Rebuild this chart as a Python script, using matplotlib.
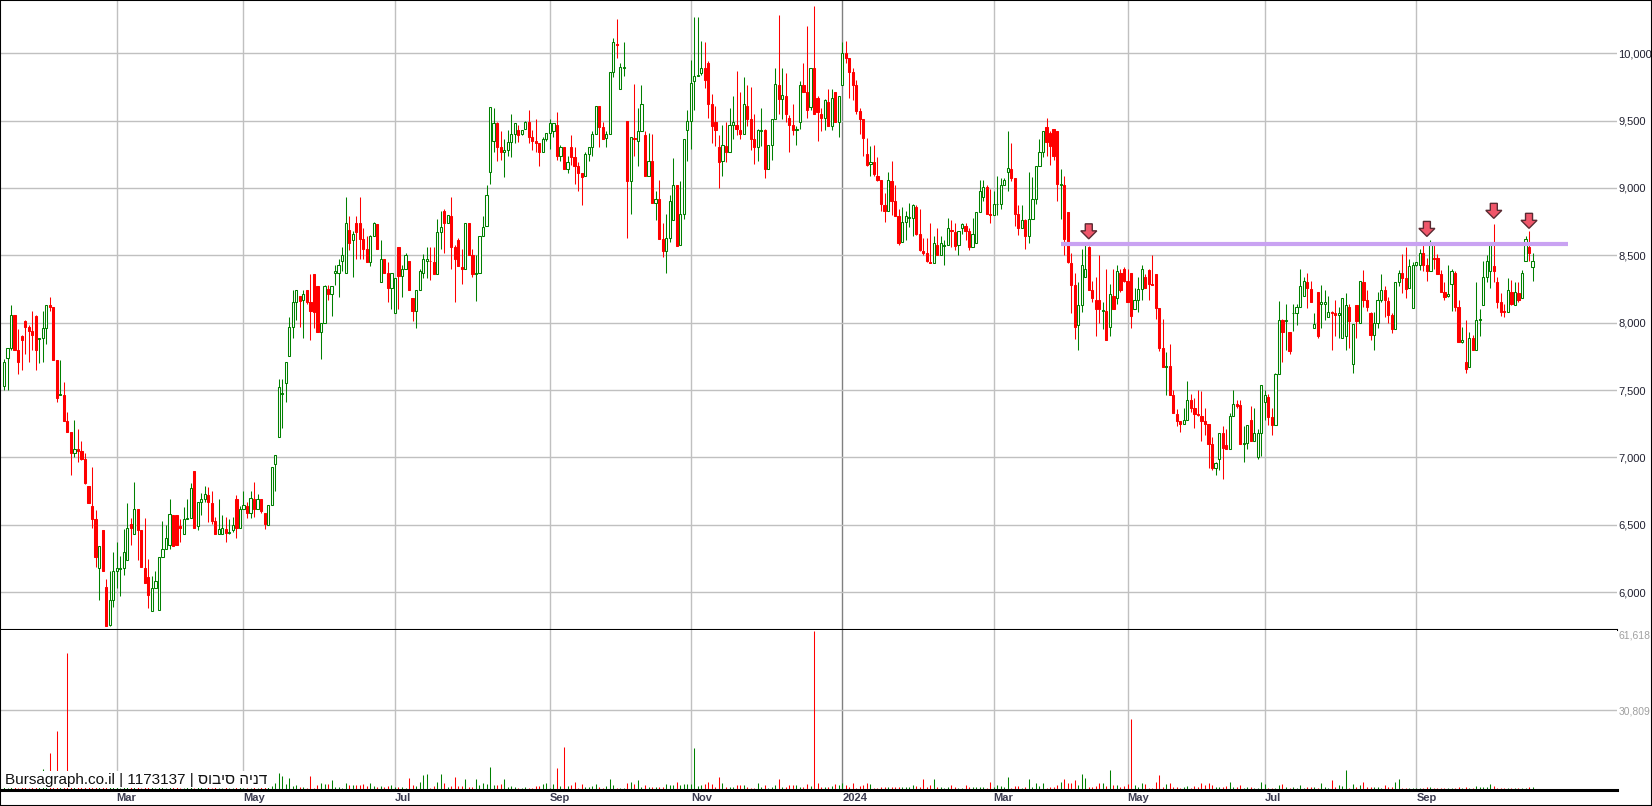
import matplotlib
matplotlib.use('Agg')
import matplotlib.pyplot as plt
from matplotlib.patches import Rectangle, Polygon
from matplotlib.transforms import IdentityTransform, blended_transform_factory

# daily candles (agorot)
opens = [7530, 7740, 7810, 8060, 7800, 7900, 8010, 7970, 7940, 8050,
         7880, 7890, 7960, 8130, 8120, 7720, 7460, 7460, 7270, 7190,
         7030, 7060, 7050, 6990, 6790, 6640, 6540, 6180, 6460, 6040,
         5760, 5940, 6160, 6170, 6180, 6240, 6510, 6430, 6620, 6460,
         6180, 6110, 5860, 6030, 5870, 6260, 6320, 6350, 6570, 6570,
         6490, 6430, 6540, 6550, 6900, 6490, 6670, 6690, 6720, 6660,
         6530, 6430, 6430, 6470, 6440, 6460, 6690, 6480, 6620, 6640,
         6590, 6690, 6620, 6690, 6590, 6500, 6650, 6950, 7150, 7470,
         7550, 7750, 7970, 8150, 8200, 8170, 8240, 8150, 8360, 8270,
         7930, 8000, 8250, 8210, 8370, 8370, 8460, 8370, 8690, 8610,
         8740, 8740, 8620, 8550, 8450, 8640, 8730, 8300, 8470, 8370,
         8260, 8070, 8560, 8350, 8400, 8460, 8180, 8090, 8240, 8370,
         8460, 8460, 8450, 8360, 8670, 8830, 8740, 8790, 8560, 8610,
         8410, 8400, 8740, 8500, 8360, 8370, 8640, 8720, 9120, 9350,
         9480, 9300, 9270, 9280, 9340, 9400, 9430, 9400, 9440, 9490,
         9380, 9350, 9330, 9270, 9360, 9410, 9420, 9470, 9240, 9300,
         9140, 9300, 9230, 9160, 9110, 9090, 9250, 9300, 9400, 9610,
         9450, 9370, 9400, 9860, 10070, 9730, 9890, 9500, 9050, 9370,
         9350, 9420, 9390, 9090, 9200, 8890, 8920, 8620, 8530, 8630,
         8760, 9020, 8580, 8810, 9430, 9500, 9790, 9830, 9850, 9890,
         9930, 9620, 9490, 9300, 9200, 9310, 9270, 9470, 9470, 9430,
         9400, 9610, 9510, 9360, 9300, 9420, 9430, 9140, 9320, 9510,
         9760, 9660, 9680, 9520, 9470, 9430, 9490, 9760, 9710, 9600,
         9890, 9670, 9550, 9520, 9640, 9460, 9710, 9490, 9760, 10000,
         9960, 9860, 9760, 9570, 9510, 9250, 9180, 9190, 9090, 9060,
         8870, 8830, 9050, 8900, 8790, 8600, 8750, 8780, 8780, 8860,
         8660, 8530, 8520, 8450, 8440, 8580, 8500, 8570, 8580, 8690,
         8670, 8580, 8700, 8720, 8680, 8560, 8590, 8820, 8930, 9010,
         8810, 8800, 8880, 8880, 9020, 9120, 9140, 9070, 8810, 8700,
         8760, 8640, 8770, 8920, 9160, 9270, 9450, 9410, 9440, 9420,
         9020, 9020, 8820, 8440, 8280, 7980, 8130, 8340, 8560, 8240,
         8170, 8170, 8090, 8090, 7970, 8200, 8180, 8370, 8400, 8310,
         8370, 8100, 8170, 8250, 8340, 8390, 8290, 8360, 8110, 7810,
         7670, 7680, 7460, 7320, 7270, 7250, 7280, 7430, 7370, 7320,
         7310, 7270, 7250, 7100, 6920, 6990, 7180, 7090, 7060, 7310,
         7400, 7390, 7100, 7110, 7280, 7120, 7000, 7180, 7410, 7450,
         7300, 7240, 7620, 8020, 8010, 7930, 8070, 8070, 8120, 8200,
         8300, 8250, 7960, 8230, 8140, 8140, 8040, 8080, 8070, 8060,
         7890, 7900, 8120, 7690, 8130, 8000, 8300, 8170, 8070, 7910,
         8000, 8170, 8240, 8160, 8060, 7950, 8300, 8370, 8330, 8260,
         8110, 8430, 8430, 8520, 8430, 8380, 8480, 8480, 8360, 8230,
         8200, 8290, 8370, 8120, 7860, 7710, 7670, 7890, 7800, 8020,
         8130, 8340, 8380, 8420, 8300, 8150, 8090, 8080, 8230, 8130,
         8220, 8180, 8460, 8560, 8410]

highs = [7730, 7810, 8130, 8060, 7950, 7910, 8020, 7980, 8090, 8060,
         7890, 8090, 8130, 8190, 8120, 7720, 7720, 7560, 7340, 7190,
         7280, 7210, 7120, 7030, 6790, 6930, 6610, 6340, 6460, 6100,
         6160, 6300, 6370, 6270, 6470, 6660, 6550, 6820, 6620, 6460,
         6550, 6250, 6120, 6160, 6260, 6530, 6500, 6690, 6570, 6570,
         6540, 6630, 6690, 6810, 6900, 6670, 6740, 6790, 6780, 6750,
         6560, 6690, 6570, 6560, 6540, 6560, 6720, 6640, 6750, 6670,
         6750, 6820, 6730, 6690, 6590, 6650, 6930, 7020, 7580, 7580,
         7710, 8040, 8240, 8240, 8200, 8240, 8240, 8360, 8360, 8270,
         8000, 8280, 8280, 8270, 8430, 8470, 8560, 8930, 8790, 8680,
         8790, 8930, 8700, 8640, 8650, 8750, 8730, 8610, 8470, 8450,
         8370, 8330, 8560, 8430, 8520, 8460, 8180, 8240, 8400, 8510,
         8560, 8560, 8560, 8770, 8830, 8840, 8800, 8930, 8580, 8630,
         8550, 8740, 8740, 8550, 8500, 8640, 8790, 9020, 9600, 9590,
         9490, 9420, 9360, 9430, 9550, 9480, 9470, 9430, 9500, 9580,
         9430, 9510, 9330, 9380, 9410, 9510, 9480, 9560, 9320, 9300,
         9240, 9390, 9300, 9190, 9110, 9270, 9300, 9420, 9610, 9610,
         9490, 9420, 9860, 10110, 10250, 9930, 10080, 9500, 9380, 9770,
         9590, 9760, 9420, 9410, 9400, 8980, 9060, 8740, 8810, 8950,
         9220, 9020, 9050, 9360, 9580, 9950, 10270, 10270, 10090, 10080,
         9940, 9700, 9610, 9390, 9470, 9490, 9590, 9680, 9870, 9710,
         9820, 9760, 9750, 9550, 9440, 9590, 9440, 9320, 9510, 9890,
         10280, 9890, 9850, 9540, 9620, 9460, 9790, 9930, 10200, 9890,
         10350, 9680, 9590, 9660, 9730, 9730, 9710, 9680, 10080, 10090,
         9960, 9890, 9800, 9590, 9510, 9370, 9310, 9320, 9230, 9060,
         8960, 9120, 9200, 9020, 8840, 8860, 8830, 8890, 8880, 8870,
         8840, 8630, 8630, 8740, 8640, 8700, 8640, 8610, 8780, 8760,
         8740, 8680, 8740, 8740, 8700, 8780, 8820, 9060, 9060, 9020,
         8990, 8980, 9090, 9070, 9070, 9420, 9330, 9070, 8870, 8870,
         8770, 9120, 9080, 9160, 9360, 9420, 9520, 9420, 9440, 9420,
         9140, 9090, 8820, 8520, 8370, 8300, 8550, 8580, 8570, 8310,
         8340, 8500, 8150, 8400, 8290, 8400, 8430, 8400, 8410, 8400,
         8370, 8260, 8340, 8430, 8360, 8400, 8500, 8360, 8110, 8030,
         7780, 7840, 7500, 7360, 7270, 7370, 7570, 7470, 7440, 7500,
         7490, 7370, 7250, 7150, 6970, 7180, 7230, 7210, 7330, 7500,
         7430, 7430, 7230, 7240, 7380, 7370, 7210, 7540, 7500, 7470,
         7370, 7630, 8160, 8030, 8140, 7930, 8140, 8140, 8400, 8340,
         8370, 8310, 8070, 8230, 8280, 8240, 8200, 8090, 8170, 8120,
         8180, 8220, 8140, 7990, 8130, 8310, 8390, 8240, 8080, 8080,
         8230, 8360, 8270, 8190, 8070, 8300, 8390, 8510, 8560, 8470,
         8450, 8450, 8550, 8580, 8480, 8610, 8580, 8510, 8390, 8300,
         8430, 8400, 8380, 8170, 7970, 8020, 7930, 7910, 8300, 8100,
         8460, 8500, 8590, 8730, 8340, 8220, 8140, 8330, 8320, 8300,
         8300, 8390, 8640, 8680, 8520]

lows = [7500, 7500, 7800, 7800, 7620, 7650, 7770, 7710, 7800, 7650,
        7700, 7710, 7840, 8090, 7720, 7410, 7460, 7270, 7190, 6870,
        7000, 6970, 6980, 6800, 6660, 6480, 6190, 5940, 6160, 5750,
        5750, 5890, 6030, 5970, 6130, 6240, 6350, 6430, 6240, 6190,
        6070, 5880, 5860, 6030, 5870, 6260, 6320, 6320, 6340, 6350,
        6370, 6430, 6540, 6550, 6480, 6460, 6570, 6670, 6520, 6510,
        6430, 6430, 6430, 6370, 6430, 6450, 6400, 6480, 6620, 6550,
        6550, 6560, 6620, 6590, 6470, 6500, 6650, 6750, 7150, 7220,
        7410, 7750, 7890, 8020, 7970, 7890, 8140, 7870, 7960, 7930,
        7730, 8000, 8170, 8050, 8280, 8190, 8380, 8370, 8540, 8340,
        8470, 8470, 8470, 8450, 8420, 8640, 8550, 8300, 8370, 8150,
        8100, 8070, 8100, 8190, 8400, 8240, 8010, 7960, 8240, 8330,
        8330, 8320, 8360, 8360, 8550, 8520, 8740, 8400, 8150, 8420,
        8290, 8400, 8500, 8340, 8160, 8370, 8640, 8720, 9030, 9270,
        9200, 9210, 9080, 9240, 9230, 9330, 9340, 9390, 9440, 9330,
        9280, 9270, 9160, 9270, 9350, 9290, 9380, 9210, 9200, 9140,
        9110, 9170, 9030, 8980, 8870, 9090, 9200, 9240, 9400, 9300,
        9360, 9300, 9400, 9820, 9960, 9730, 9830, 8630, 8810, 9240,
        9160, 9420, 9090, 9090, 8890, 8760, 8620, 8490, 8370, 8600,
        8760, 8570, 8580, 8770, 9200, 9290, 9580, 9830, 9840, 9740,
        9520, 9330, 9310, 9000, 9090, 9190, 9270, 9360, 9390, 9360,
        9400, 9460, 9280, 9180, 9200, 9310, 9070, 9140, 9210, 9510,
        9550, 9510, 9490, 9270, 9390, 9320, 9440, 9710, 9520, 9580,
        9550, 9350, 9420, 9430, 9460, 9430, 9490, 9380, 9760, 9930,
        9670, 9650, 9550, 9400, 9240, 9160, 9090, 9090, 9050, 8830,
        8750, 8830, 8800, 8790, 8580, 8600, 8610, 8710, 8640, 8650,
        8530, 8500, 8450, 8440, 8440, 8500, 8500, 8430, 8580, 8560,
        8540, 8500, 8660, 8610, 8540, 8560, 8590, 8820, 8900, 8810,
        8740, 8800, 8800, 8840, 9020, 8980, 9050, 8720, 8650, 8700,
        8550, 8590, 8770, 8880, 9160, 9230, 9240, 9170, 9210, 8900,
        8770, 8500, 8440, 8070, 7880, 7800, 8080, 8340, 8240, 8150,
        7900, 8000, 7950, 7870, 7900, 8100, 8140, 8230, 8300, 8150,
        7960, 8100, 8080, 8170, 8260, 8170, 8280, 8030, 7790, 7670,
        7460, 7460, 7330, 7230, 7190, 7250, 7280, 7340, 7220, 7310,
        7120, 7170, 6920, 6910, 6870, 6910, 6840, 7060, 7060, 7310,
        7370, 7100, 6970, 7060, 7120, 7120, 6990, 7010, 7280, 7240,
        7170, 7240, 7620, 7710, 7800, 7770, 7940, 7980, 8120, 8200,
        8110, 8150, 7960, 7890, 7960, 8020, 8040, 7800, 7900, 7890,
        7890, 7800, 7810, 7630, 7890, 8000, 8120, 8090, 7870, 7800,
        7960, 8150, 8040, 8000, 7920, 7950, 8270, 8220, 8180, 8260,
        8110, 8420, 8390, 8380, 8310, 8380, 8400, 8360, 8230, 8170,
        8190, 8090, 8090, 7860, 7850, 7630, 7670, 7800, 7800, 7900,
        8130, 8300, 8260, 8300, 8110, 8050, 8040, 8080, 8130, 8130,
        8150, 8180, 8460, 8460, 8310]

closes = [7710, 7810, 8060, 7800, 7710, 7870, 7970, 7940, 7910, 7800,
          7890, 7960, 8130, 8120, 7720, 7440, 7470, 7270, 7190, 7030,
          7060, 7050, 6990, 6810, 6660, 6540, 6260, 6340, 6160, 5750,
          5940, 6160, 6180, 6180, 6300, 6480, 6480, 6620, 6460, 6190,
          6070, 5980, 6030, 6080, 6260, 6320, 6400, 6580, 6340, 6350,
          6480, 6540, 6550, 6770, 6480, 6670, 6690, 6730, 6670, 6530,
          6430, 6470, 6480, 6440, 6450, 6500, 6480, 6620, 6650, 6590,
          6700, 6620, 6690, 6600, 6510, 6650, 6930, 7020, 7520, 7480,
          7710, 7970, 8150, 8240, 8160, 8210, 8150, 8090, 8080, 7930,
          8000, 8270, 8210, 8270, 8380, 8430, 8500, 8740, 8590, 8660,
          8670, 8620, 8550, 8450, 8640, 8740, 8550, 8470, 8370, 8260,
          8370, 8330, 8350, 8400, 8500, 8240, 8090, 8240, 8380, 8470,
          8470, 8455, 8360, 8670, 8710, 8740, 8800, 8560, 8470, 8420,
          8400, 8740, 8500, 8360, 8370, 8640, 8710, 8950, 9600, 9480,
          9300, 9270, 9280, 9340, 9400, 9480, 9390, 9430, 9490, 9380,
          9350, 9330, 9270, 9360, 9410, 9480, 9480, 9240, 9300, 9140,
          9190, 9230, 9160, 9110, 9080, 9250, 9300, 9400, 9610, 9450,
          9360, 9400, 9860, 10080, 10060, 9900, 9900, 9050, 9380, 9360,
          9420, 9620, 9090, 9200, 8890, 8920, 8620, 8530, 8630, 8900,
          9020, 8570, 8810, 9360, 9500, 9780, 9830, 9840, 9890, 9800,
          9620, 9460, 9430, 9190, 9320, 9270, 9470, 9490, 9440, 9400,
          9620, 9510, 9360, 9300, 9430, 9430, 9140, 9320, 9510, 9770,
          9660, 9690, 9550, 9470, 9430, 9440, 9760, 9710, 9580, 9890,
          9550, 9560, 9520, 9650, 9460, 9670, 9490, 9680, 10000, 9960,
          9860, 9760, 9570, 9510, 9370, 9170, 9190, 9100, 9060, 8880,
          8830, 9060, 8900, 8790, 8590, 8750, 8790, 8780, 8870, 8660,
          8540, 8520, 8460, 8440, 8590, 8500, 8590, 8580, 8700, 8680,
          8570, 8680, 8730, 8680, 8560, 8660, 8820, 8980, 9010, 8810,
          8800, 8880, 8880, 9020, 9060, 9150, 9070, 8810, 8700, 8760,
          8640, 8770, 8920, 9160, 9270, 9420, 9340, 9310, 9240, 9030,
          9030, 8620, 8450, 8280, 7970, 8130, 8430, 8400, 8240, 8180,
          8100, 8100, 8090, 7870, 8210, 8100, 8380, 8240, 8310, 8150,
          8050, 8170, 8250, 8400, 8260, 8290, 8280, 8110, 7810, 7670,
          7680, 7460, 7330, 7270, 7250, 7280, 7430, 7370, 7320, 7315,
          7270, 7250, 7100, 6920, 6960, 7180, 7070, 7060, 7310, 7400,
          7380, 7100, 7110, 7240, 7120, 7180, 7180, 7540, 7460, 7300,
          7240, 7620, 8020, 7930, 8020, 7790, 8070, 8120, 8270, 8310,
          8260, 8150, 7990, 7900, 8150, 8150, 8080, 8070, 8060, 8070,
          8180, 8130, 8010, 7990, 8010, 8310, 8170, 8120, 7910, 8000,
          8170, 8240, 8170, 8060, 7950, 8300, 8370, 8330, 8250, 8420,
          8430, 8450, 8520, 8430, 8380, 8590, 8470, 8360, 8230, 8190,
          8210, 8380, 8120, 7860, 7870, 7660, 7890, 7800, 8020, 8030,
          8340, 8460, 8590, 8380, 8150, 8080, 8080, 8240, 8140, 8230,
          8170, 8370, 8620, 8520, 8460]

volumes = [1400, 900, 2100, 1600, 800, 1100, 1300, 700, 1000, 1500,
           1200, 8000, 2400, 14200, 3100, 22800, 2600, 1900, 53100, 4200,
           2800, 1500, 1100, 1700, 2300, 1900, 2600, 3000, 2200, 1800,
           2500, 1600, 1200, 900, 1400, 1100, 1700, 1000, 1300, 900,
           1200, 1600, 1100, 800, 1000, 1400, 900, 1200, 1500, 1000,
           700, 800, 1100, 1300, 900, 1600, 1000, 800, 1200, 900,
           1000, 700, 800, 1100, 600, 900, 1200, 1000, 800, 700,
           900, 1100, 800, 1000, 1300, 1800, 1550, 2600, 6450, 5400,
           2200, 4800, 1550, 1800, 1150, 1300, 900, 5400, 900, 1800,
           2600, 2200, 2200, 3900, 1300, 1300, 900, 2600, 1950, 1950,
           1800, 1950, 2200, 1550, 2600, 1550, 1150, 1550, 1300, 1550,
           1800, 1150, 1300, 1300, 900, 4500, 1800, 1550, 3200, 5700,
           6050, 900, 1550, 3200, 6050, 2850, 1150, 1550, 4900, 1550,
           1550, 4150, 1300, 1300, 4150, 1950, 2600, 2200, 8800, 1800,
           1800, 2200, 4150, 1150, 1550, 1150, 900, 900, 1300, 900,
           900, 1550, 1550, 2200, 2850, 900, 2200, 8400, 1550, 16600,
           1550, 1800, 3200, 900, 2200, 1030, 1030, 1550, 2200, 1030,
           650, 1550, 4130, 1800, 900, 650, 650, 2580, 3230, 2450,
           3740, 1030, 1940, 1030, 1290, 1030, 1030, 1290, 2190, 1810,
           1810, 3230, 1810, 2190, 2190, 2190, 16100, 1550, 1940, 2190,
           3230, 2190, 1030, 4900, 2840, 1030, 1030, 1030, 1810, 1810,
           1810, 1290, 650, 900, 2840, 1030, 1810, 650, 1290, 1810,
           4130, 1290, 1030, 1810, 1810, 1810, 1030, 1030, 2190, 1550,
           61618, 2580, 1030, 1030, 1030, 1550, 2190, 1810, 2840, 1810,
           1290, 2580, 650, 1550, 1940, 2580, 2190, 900, 900, 1160,
           1290, 1290, 1030, 1030, 1030, 1290, 1290, 1030, 1810, 1550,
           1290, 4130, 1030, 1810, 4130, 1290, 1290, 900, 1030, 1810,
           1290, 900, 900, 1810, 1290, 1030, 1030, 1030, 1290, 650,
           3230, 1030, 1810, 1550, 1030, 4900, 900, 1550, 1550, 900,
           1030, 4130, 1290, 2840, 1550, 2580, 900, 1030, 1030, 1810,
           3230, 4130, 2580, 2840, 3740, 1810, 6060, 4520, 1290, 1290,
           1550, 2580, 2580, 1550, 7610, 1940, 1940, 1160, 1550, 2190,
           27350, 1940, 1030, 2580, 2190, 650, 650, 3230, 5680, 1030,
           2190, 2580, 1030, 1030, 650, 1030, 1550, 650, 1550, 1030,
           2580, 1940, 2580, 1810, 1030, 1030, 1160, 1550, 2970, 1290,
           1030, 1940, 900, 1030, 1030, 900, 900, 2970, 2190, 650,
           650, 900, 1810, 2190, 1030, 650, 1030, 650, 1810, 650,
           1030, 1030, 1030, 900, 2580, 1290, 900, 3740, 1290, 1940,
           1550, 7610, 650, 2190, 1030, 1940, 3230, 1030, 1030, 1030,
           1030, 650, 1810, 1030, 1030, 3230, 4130, 900, 650, 650,
           650, 650, 650, 650, 1030, 1030, 650, 650, 650, 650,
           650, 650, 900, 1290, 900, 1030, 650, 650, 1550, 1030,
           1030, 1030, 2190, 1550, 900, 650, 650, 650, 650, 650,
           650, 900, 900, 1030, 1030]

# month gridlines (candle index of first trading day)
month_pos = [32, 68, 111, 155, 195, 238, 281, 319, 358, 401]
month_lbl = ['Mar', 'May', 'Jul', 'Sep', 'Nov', '2024', 'Mar', 'May', 'Jul', 'Sep']
price_ticks = [6000, 6500, 7000, 7500, 8000, 8500, 9000, 9500, 10000]
vol_max = 61618

resist_level = 8585
resist_from, resist_to = 300, 444
arrow_idx = [308, 404, 423, 433]
arrow_tip = [8622, 8640, 8774, 8700]

stock = 'דניה סיבוס'

W, H = 1652, 806
GREEN = '#008000'
RED = '#ff0000'
GRID = '#c0c0c0'

fig = plt.figure(figsize=(W / 100, H / 100), dpi=100)
fig.patch.set_facecolor('white')
ax = fig.add_axes([0, (H - 630) / H, 1617 / W, 630 / H])
axv = fig.add_axes([0, (H - 790) / H, 1617 / W, 160 / H], sharex=ax)

n = len(closes)
step = 3.522
ax.set_xlim(-4 / step, (1617 - 4) / step)
ax.set_ylim(5720, 10394)
axv.set_ylim(0, 62000)

# grid
for a in (ax, axv):
    for p in month_pos:
        col = '#808080' if p == 238 else GRID
        a.axvline(p, color=col, lw=1, zorder=0)
for v in price_ticks:
    ax.axhline(v, color=GRID, lw=1, zorder=0)
axv.axhline(vol_max / 2, color=GRID, lw=1, zorder=0)

# candles
bw = 0.62
for i in range(n):
    o, h, l, c = opens[i], highs[i], lows[i], closes[i]
    up = c >= o
    col = GREEN if up else RED
    ax.vlines(i, l, h, colors=col, lw=0.75, zorder=2)
    lo, hi = min(o, c), max(o, c)
    ax.add_patch(Rectangle((i - bw / 2, lo), bw, max(hi - lo, 4),
                           facecolor='white' if up else RED, edgecolor=col,
                           lw=0.75, zorder=3))
    axv.vlines(i, 0, volumes[i], colors=col, lw=0.75, zorder=2)

# resistance line
ax.hlines(resist_level, resist_from, resist_to, colors='#c9a2f2', lw=3.0, zorder=4)

# axes look
for a in (ax, axv):
    for s in ('top', 'left', 'right'):
        a.spines[s].set_visible(False)
ax.spines['bottom'].set_color('black')
ax.spines['bottom'].set_linewidth(1.5)
ax.spines['bottom'].set_zorder(6)
axv.spines['bottom'].set_color('black')
axv.spines['bottom'].set_linewidth(2.2)
axv.spines['bottom'].set_zorder(10)

ax.yaxis.tick_right()
ax.set_yticks(price_ticks)
ax.set_yticklabels([f'{v:,}' for v in price_ticks])
ax.tick_params(axis='y', length=0, pad=1, labelsize=8, labelcolor='#202030')
ax.tick_params(axis='x', length=0, labelbottom=False)
for t in ax.get_yticklabels():
    t.set_fontfamily('Liberation Sans')

axv.yaxis.tick_right()
axv.set_yticks([vol_max / 2])
axv.set_yticklabels([f'{round(vol_max / 2):,}'])
axv.tick_params(axis='y', length=0, pad=1, labelsize=7.5, labelcolor='#a0a0a0')
for t in axv.get_yticklabels():
    t.set_fontfamily('Liberation Sans')
bt = blended_transform_factory(axv.transAxes, axv.transData)
axv.text(1.001, vol_max, f'{vol_max:,}', transform=bt, ha='left', va='top',
         fontsize=7.5, color='#a0a0a0', family='Liberation Sans', clip_on=False)

axv.set_xticks(month_pos)
axv.set_xticklabels(month_lbl)
axv.tick_params(axis='x', length=0, pad=2, labelsize=8, labelcolor='#3c3c50')
for t in axv.get_xticklabels():
    t.set_ha('left')
    t.set_fontfamily('Liberation Sans')
    t.set_fontweight('bold')

# watermark (Hebrew drawn right-to-left)
axv.text(5 / 1617, 0.02, 'Bursagraph.co.il | 1173137 | ' + stock[::-1],
         transform=axv.transAxes, ha='left', va='bottom', fontsize=11,
         family=['Liberation Sans', 'DejaVu Sans'], color='#111111', zorder=8,
         bbox=dict(facecolor='white', edgecolor='none', pad=1))

# arrows above resistance touches
for xi, yt in zip(arrow_idx, arrow_tip):
    tx, ty = ax.transData.transform((xi, yt))
    pts = [(tx, ty), (tx + 8, ty + 8), (tx + 3.5, ty + 8), (tx + 3.5, ty + 15),
           (tx - 3.5, ty + 15), (tx - 3.5, ty + 8), (tx - 8, ty + 8)]
    fig.add_artist(Polygon(pts, closed=True, transform=IdentityTransform(),
                           facecolor='#f0566a', edgecolor='#5a2a32', lw=1, zorder=9))

# outer frame
fig.add_artist(Rectangle((0, 0), 1, 1, transform=fig.transFigure, fill=False,
                         edgecolor='black', lw=1.5, zorder=20))

fig.savefig('out.png', dpi=100)
